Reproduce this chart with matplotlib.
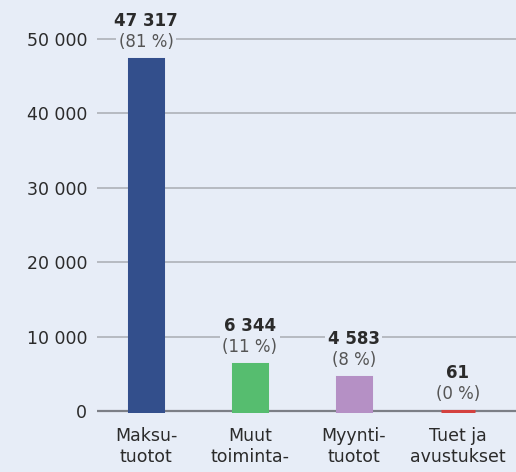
import numpy as np
import matplotlib.pyplot as plt

# data
categories = ["Maksu-\ntuotot", "Muut\ntoiminta-", "Myynti-\ntuotot", "Tuet ja\navustukset"]
values = [47317, 6344, 4583, 61]
shares = [81, 11, 8, 0]
colors = ["#334f8c", "#56bd6f", "#b590c5", "#d4413f"]
yticks = [0, 10000, 20000, 30000, 40000, 50000]

bg = "#e7edf7"
txt = "#2b2b2b"

plt.rcParams["font.family"] = ["DejaVu Sans"]

fig = plt.figure(figsize=(5.16, 4.72), dpi=100, facecolor=bg)
# axes start a little below zero so the baseline shows fully
ax = fig.add_axes([97 / 516, 59 / 472, 1 - 97 / 516, 413 / 472])
ax.set_facecolor(bg)

x = np.arange(len(values))

# grid lines
for t in yticks[1:]:
    ax.axhline(t, color="#a9acb3", lw=1.1, zorder=0)
ax.axhline(0, color="#7c7f86", lw=1.6, zorder=1)

# thick edge keeps the tiny bar visible above the baseline
ax.bar(x, values, width=0.335, color=colors, edgecolor=colors, linewidth=2.2, zorder=2)

def fmt(v):
    return f"{v:,}".replace(",", " ")

for xi, v, s in zip(x, values, shares):
    ax.annotate(f"({s} %)", (xi, v), xytext=(0, 12), textcoords="offset points",
                ha="center", va="center", fontsize=12, color="#555555", zorder=4,
                bbox=dict(boxstyle="square,pad=0.15", fc=bg, ec="none"))
    ax.annotate(fmt(v), (xi, v), xytext=(0, 27), textcoords="offset points",
                ha="center", va="center", fontsize=12, fontweight="bold", color=txt, zorder=4,
                bbox=dict(boxstyle="square,pad=0.15", fc=bg, ec="none"))

ax.set_xlim(-0.471, 3.558)
ax.set_ylim(-270, 55240)
ax.set_yticks(yticks)
ax.set_yticklabels([fmt(t) for t in yticks], fontsize=12.5, color=txt)
ax.set_xticks(x)
ax.set_xticklabels(categories, fontsize=12.5, color=txt, linespacing=1.25, va="top")
ax.tick_params(axis="y", length=0, pad=7)
ax.tick_params(axis="x", length=0, pad=10)
for sp in ax.spines.values():
    sp.set_visible(False)

fig.savefig("out.png", dpi=100, facecolor=bg)
